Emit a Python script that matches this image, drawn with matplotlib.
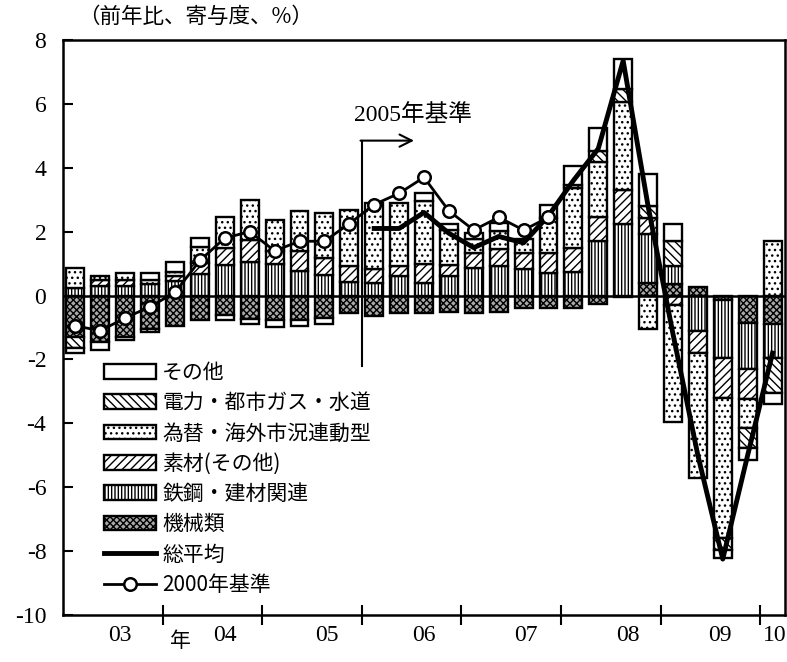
import numpy as np
import matplotlib
matplotlib.use('Agg')
import matplotlib.pyplot as plt
from matplotlib.patches import Patch
from matplotlib.lines import Line2D
from matplotlib.transforms import blended_transform_factory

plt.rcParams['font.family'] = ['Noto Sans CJK JP', 'DejaVu Sans']
plt.rcParams['axes.unicode_minus'] = False
plt.rcParams['hatch.linewidth'] = 1.0

# ---------------- data (quarterly, 2003Q1 - 2010Q1) ----------------
quarters = [f"{y}Q{q}" for y in range(2003, 2011) for q in range(1, 5)][:29]

machinery = [-1.3, -1.45, -1.3, -1.05, -0.95, -0.75, -0.6, -0.72, -0.75, -0.75,
             -0.7, -0.55, -0.65, -0.55, -0.55, -0.5, -0.55, -0.5, -0.4, -0.4,
             -0.4, -0.25, -0.05, 0.4, 0.37, 0.28, -0.15, -0.85, -0.9]
steel = [0.25, 0.3, 0.3, 0.35, 0.45, 0.69, 0.97, 1.06, 1.0, 0.78,
         0.63, 0.44, 0.4, 0.6, 0.4, 0.6, 0.85, 0.94, 0.84, 0.72,
         0.75, 1.72, 2.25, 1.53, 0.56, -1.1, -1.8, -1.45, -1.05]
materials = [0.0, 0.2, 0.2, 0.0, 0.15, 0.34, 0.53, 0.69, 0.4, 0.6,
             0.56, 0.5, 0.44, 0.34, 0.6, 0.35, 0.47, 0.53, 0.5, 0.6,
             0.75, 0.75, 1.06, 0.5, -0.3, -0.7, -1.25, -0.93, 0.0]
fx_linked = [0.62, 0.1, 0.2, 0.15, 0.15, 0.5, 0.97, 1.25, 0.97, 1.28,
             1.4, 1.75, 2.06, 1.97, 1.97, 1.1, 0.44, 0.56, 0.44, 1.1,
             1.87, 1.72, 2.75, -1.05, -3.67, -3.9, -4.38, -0.93, 1.72]
utilities = [-0.35, 0.0, 0.0, -0.1, 0.0, 0.0, 0.0, 0.0, 0.0, 0.0,
             0.0, 0.0, 0.0, 0.0, 0.0, 0.0, 0.0, 0.0, 0.0, 0.0,
             0.1, 0.34, 0.4, 0.37, 0.78, 0.0, -0.4, -0.6, -1.1]
others = [-0.15, -0.25, -0.1, 0.2, 0.3, 0.28, -0.18, -0.16, -0.25, -0.2,
          -0.2, 0.0, 0.0, 0.0, 0.25, 0.2, 0.2, 0.25, 0.0, 0.4,
          0.6, 0.72, 0.94, 1.0, 0.53, 0.0, -0.25, -0.4, -0.35]

nan = np.nan
total_2005base = [nan] * 12 + [2.1, 2.1, 2.6, 1.95, 1.5, 1.85, 1.65, 2.5,
                               3.6, 4.6, 7.35, 2.8, -1.2, -5.0, -8.25, -5.0, -1.8]
total_2000base = [-0.95, -1.1, -0.7, -0.35, 0.1, 1.1, 1.8, 2.0, 1.4, 1.7,
                  1.7, 2.25, 2.85, 3.2, 3.7, 2.65, 2.05, 2.45, 2.05, 2.45] + [nan] * 9

year_labels = ['03', '04', '05', '06', '07', '08', '09', '10']
year_label_pos = [1.8, 6.0, 10.1, 14.0, 18.1, 22.2, 25.9, 28.1]
year_boundaries = [3.5, 7.5, 11.5, 15.5, 19.5, 23.5, 27.5]

# ---------------- figure ----------------
fig = plt.figure(figsize=(7.87, 6.62), dpi=100)
ax = fig.add_axes([63 / 787, 1 - 615 / 662, (785 - 63) / 787, (615 - 40) / 662])

x = np.arange(len(quarters))
styles = {
    '機械類': dict(facecolor='#a8a8a8', hatch='xxxxx'),
    '鉄鋼・建材関連': dict(facecolor='white', hatch='|||||'),
    '素材(その他)': dict(facecolor='white', hatch='////'),
    '為替・海外市況連動型': dict(facecolor='white', hatch='...'),
    '電力・都市ガス・水道': dict(facecolor='white', hatch='\\\\\\\\'),
    'その他': dict(facecolor='white', hatch=None),
}
components = [
    (machinery, '機械類'),
    (steel, '鉄鋼・建材関連'),
    (materials, '素材(その他)'),
    (fx_linked, '為替・海外市況連動型'),
    (utilities, '電力・都市ガス・水道'),
    (others, 'その他'),
]

pos = np.zeros(len(x))
neg = np.zeros(len(x))
bw = 0.72
for vals, name in components:
    v = np.array(vals, dtype=float)
    for i in range(len(x)):
        if v[i] == 0:
            continue
        if v[i] > 0:
            b = pos[i]
            pos[i] += v[i]
        else:
            b = neg[i]
            neg[i] += v[i]
        ax.bar(x[i], v[i], bottom=b, width=bw, edgecolor='black',
               linewidth=1.7, zorder=2, **styles[name])

ax.axhline(0, color='black', lw=1.8, zorder=3)

ax.plot(x, total_2005base, color='black', lw=3.5, zorder=5,
        solid_joinstyle='round')
ax.plot(x, total_2000base, color='black', lw=2.0, marker='o', ms=9,
        mfc='white', mec='black', mew=1.8, zorder=6)

# 2005 base annotation
ax.plot([11.5, 11.5], [-2.2, 4.85], color='black', lw=1.5, zorder=4)
ax.annotate('', xy=(13.6, 4.85), xytext=(11.45, 4.85),
            arrowprops=dict(arrowstyle='->', lw=1.5, color='black',
                            mutation_scale=22, shrinkA=0, shrinkB=0), zorder=4)
ax.text(13.55, 5.65, '2005年基準', ha='center', va='center', fontsize=17,
        family=['Liberation Serif', 'Noto Sans CJK JP'])

# axes
ax.set_xlim(-0.5, 28.5)
ax.set_ylim(-10, 8)
ax.set_yticks(range(-10, 9, 2))
ax.set_yticklabels([str(v) for v in range(-10, 9, 2)],
                   family='Liberation Serif', fontsize=17)
ax.tick_params(axis='y', direction='in', length=7, width=1.5, pad=12)

ax.set_xticks(year_boundaries)
ax.set_xticklabels([''] * len(year_boundaries))
ax.tick_params(axis='x', which='major', direction='inout', length=14, width=1.5)
ax.set_xticks(year_label_pos, minor=True)
ax.set_xticklabels(year_labels, minor=True, family='Liberation Serif', fontsize=17)
ax.tick_params(axis='x', which='minor', length=0, pad=7)

trans = blended_transform_factory(ax.transData, ax.transAxes)
ax.text(4.2, -0.045, '年', transform=trans, ha='center', va='center', fontsize=15)

for s in ax.spines.values():
    s.set_linewidth(1.8)

fig.text(78 / 787, 1 - 17 / 662, '（前年比、寄与度、%）', ha='left', va='center',
         fontsize=15.5)

# legend
handles = [
    Patch(edgecolor='black', linewidth=1.7, **styles['その他']),
    Patch(edgecolor='black', linewidth=1.7, **styles['電力・都市ガス・水道']),
    Patch(edgecolor='black', linewidth=1.7, **styles['為替・海外市況連動型']),
    Patch(edgecolor='black', linewidth=1.7, **styles['素材(その他)']),
    Patch(edgecolor='black', linewidth=1.7, **styles['鉄鋼・建材関連']),
    Patch(edgecolor='black', linewidth=1.7, **styles['機械類']),
    Line2D([], [], color='black', lw=3.5),
    Line2D([], [], color='black', lw=2.0, marker='o', ms=9, mfc='white',
           mec='black', mew=1.8),
]
labels = ['その他', '電力・都市ガス・水道', '為替・海外市況連動型', '素材(その他)',
          '鉄鋼・建材関連', '機械類', '総平均', '2000年基準']
leg = ax.legend(handles, labels, loc='upper left', bbox_to_anchor=(0.045, 0.455),
                frameon=False, fontsize=15, handlelength=2.5, handleheight=0.7,
                handletextpad=0.3, labelspacing=0.4, borderaxespad=0)
leg.set_zorder(10)

fig.savefig('out.png', dpi=100)
